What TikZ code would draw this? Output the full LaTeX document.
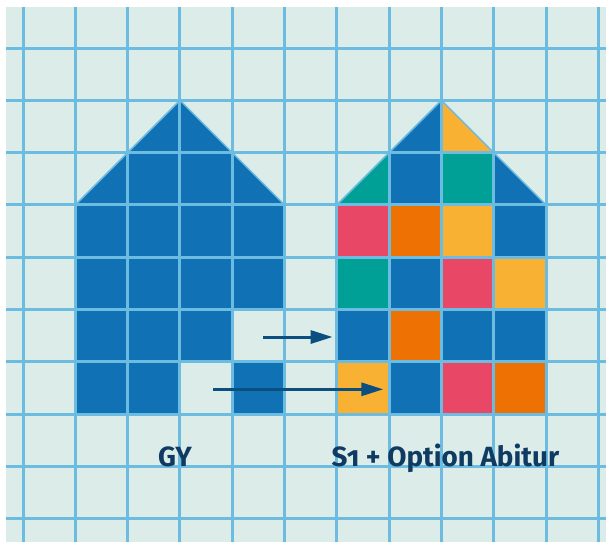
\documentclass[tikz,border=0pt]{standalone}
\usepackage{fontspec}
\newfontfamily\labfont[Numbers=OldStyle]{Fira Sans}
\usetikzlibrary{arrows.meta}
\definecolor{bgc}{HTML}{DCEDE9}
\definecolor{gridc}{HTML}{6CBBE0}
\definecolor{hblue}{HTML}{1071B4}
\definecolor{hteal}{HTML}{00A096}
\definecolor{hyellow}{HTML}{F8B133}
\definecolor{horange}{HTML}{EE7203}
\definecolor{hred}{HTML}{E84865}
\definecolor{arrc}{HTML}{0B4E80}
\definecolor{txtc}{HTML}{0F3A62}
\newcommand\cellfill[3]{\fill[#3] (#1,#2) rectangle ++(1,1);}
\begin{document}
\begin{tikzpicture}[x=52.3pt,y=-52.3pt,
  gridline/.style={draw=gridc,line width=3pt},
  roofedge/.style={draw=gridc,line width=1.5pt,line join=round},
  movearrow/.style={draw=arrc,line width=3pt,-{Triangle[length=22pt,width=13pt]}},
  lab/.style={text=txtc,font=\labfont\bfseries\fontsize{27.8}{32}\selectfont,anchor=base,inner sep=0pt}]
\useasboundingbox (-0.4398,-0.9178) rectangle (11.1472,9.4455);
\fill[white] (-0.4398,-0.9178) rectangle (11.1472,9.4455);
\fill[bgc] (-0.325,-0.784) rectangle (11.1472,9.4455);
% left house
\fill[hblue] (1,3) -- (3,1) -- (5,3) -- cycle;
\foreach \i in {1,2,3,4}{\foreach \j in {3,4}{\cellfill{\i}{\j}{hblue}}}
\cellfill{1}{5}{hblue}\cellfill{2}{5}{hblue}\cellfill{3}{5}{hblue}
\cellfill{1}{6}{hblue}\cellfill{2}{6}{hblue}\cellfill{4}{6}{hblue}
% right house roof
\fill[hblue] (7,2) -- (8,1) -- (8,2) -- cycle;
\fill[hyellow] (8,1) -- (9,2) -- (8,2) -- cycle;
\fill[hteal] (6,3) -- (7,2) -- (7,3) -- cycle;
\cellfill{7}{2}{hblue}
\cellfill{8}{2}{hteal}
\fill[hblue] (9,2) -- (10,3) -- (9,3) -- cycle;
% right house body
\cellfill{6}{3}{hred}\cellfill{7}{3}{horange}\cellfill{8}{3}{hyellow}\cellfill{9}{3}{hblue}
\cellfill{6}{4}{hteal}\cellfill{7}{4}{hblue}\cellfill{8}{4}{hred}\cellfill{9}{4}{hyellow}
\cellfill{6}{5}{hblue}\cellfill{7}{5}{horange}\cellfill{8}{5}{hblue}\cellfill{9}{5}{hblue}
\cellfill{6}{6}{hyellow}\cellfill{7}{6}{hblue}\cellfill{8}{6}{hred}\cellfill{9}{6}{horange}
% grid
\foreach \k in {0,...,11}{\draw[gridline] (\k,-0.784) -- (\k,9.4455);}
\foreach \k in {0,...,9}{\draw[gridline] (-0.325,\k) -- (11.1472,\k);}
% roof edges
\draw[roofedge] (1,3) -- (3,1) -- (5,3);
\draw[roofedge] (6,3) -- (8,1) -- (10,3);
% arrows
\coordinate (a1s) at (4.589,5.526);
\coordinate (a1e) at (5.92,5.526);
\coordinate (a2s) at (3.633,6.526);
\coordinate (a2e) at (6.889,6.526);
\draw[movearrow] (a1s) -- (a1e);
\draw[movearrow] (a2s) -- (a2e);
% labels
\node[lab] (gy) at (2.906,8) {GY};
\node[lab] (s1) at (8.078,8) {S1 + Option Abitur};
\end{tikzpicture}
\end{document}
